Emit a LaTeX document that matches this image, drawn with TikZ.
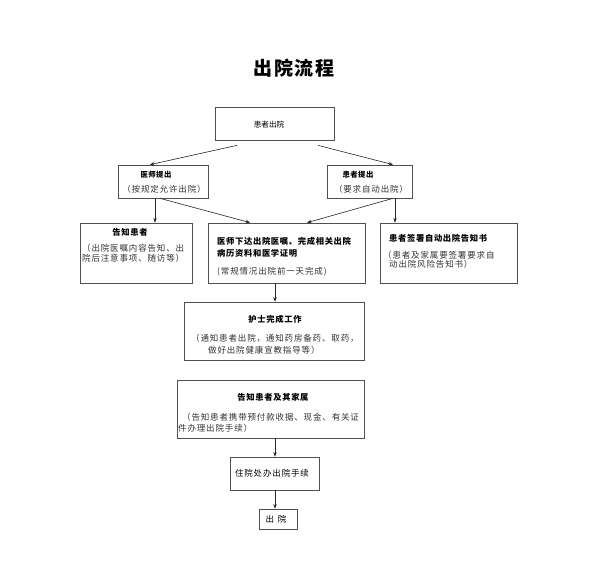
\documentclass[tikz,border=0pt]{standalone}
\usepackage{fontspec}
\setmainfont{Noto Sans CJK SC}
\usetikzlibrary{arrows.meta,calc}
\definecolor{boxgray}{HTML}{505050}
\definecolor{subgray}{HTML}{333333}
\begin{document}
\begin{tikzpicture}[x=1pt,y=-1pt,
  box/.style={draw=boxgray,line width=0.7pt,inner sep=0pt},
  ttl/.style={inner sep=0pt,text=black,font=\fontsize{8.3}{10}\selectfont\bfseries\addfontfeature{LetterSpace=8}},
  smallttl/.style={inner sep=0pt,text=black,font=\fontsize{7.4}{9}\selectfont\bfseries\addfontfeature{LetterSpace=6}},
  sub/.style={inner sep=0pt,text=subgray,font=\fontsize{8.5}{10}\selectfont\addfontfeature{LetterSpace=10}},
  arr/.style={draw=black!85,line width=0.6pt,-{Stealth[length=4.5pt,width=3.5pt]}}]
\useasboundingbox[fill=white] (0,0) rectangle (590,568);

\node[inner sep=0pt,font=\fontsize{19}{22}\selectfont\bfseries\addfontfeature{LetterSpace=8}] (title) at (294,68) {出院流程};

% boxes
\node[box,minimum width=119pt,minimum height=33pt] (top) at (274.5,123.5) {};
\node[box,minimum width=90pt,minimum height=33pt] (dr) at (163,181.5) {};
\node[box,minimum width=85pt,minimum height=33pt] (pt) at (369.5,181.5) {};
\node[box,minimum width=112pt,minimum height=60pt] (b1) at (136,253) {};
\node[box,minimum width=157pt,minimum height=60pt] (b2) at (286.5,253) {};
\node[box,minimum width=137pt,minimum height=60pt] (b3) at (448.5,253) {};
\node[box,minimum width=180pt,minimum height=58pt] (nurse) at (274,331) {};
\node[box,minimum width=187pt,minimum height=58pt] (fam) at (270.5,409) {};
\node[box,minimum width=89pt,minimum height=33pt] (office) at (274.5,473.5) {};
\node[box,minimum width=38pt,minimum height=20pt] (out) at (278,519) {};

% texts
\node[smallttl,font=\fontsize{7.6}{9}\selectfont] (topT) at (269,125) {患者出院};
\node[smallttl] (drT) at (156,175) {医师提出};
\node[sub] (drS) at (164,189) {（按规定允许出院）};
\node[smallttl] (ptT) at (358,175) {患者提出};
\node[sub] (ptS) at (371,189) {（要求自动出院）};

\node[ttl] (b1T) at (130,232) {告知患者};
\node[sub,anchor=west] (b1S1) at (82,248) {（出院医嘱内容告知、出};
\node[sub,anchor=west] (b1S2) at (82,258.5) {院后注意事项、随访等）};

\node[ttl,anchor=west] (b2T1) at (217,241) {医师下达出院医嘱、完成相关出院};
\node[ttl,anchor=west] (b2T2) at (217,253) {病历资料和医学证明};
\node[sub,anchor=west] (b2S) at (217,272) {(常规情况出院前一天完成)};

\node[ttl,anchor=west] (b3T) at (389,238) {患者签署自动出院告知书};
\node[sub,anchor=west] (b3S1) at (383,255.5) {（患者及家属要签署要求自};
\node[sub,anchor=west] (b3S2) at (389,264.5) {动出院风险告知书）};

\node[ttl] (nurseT) at (275,319) {护士完成工作};
\node[sub,anchor=west] (nurseS1) at (191,338) {（通知患者出院，通知药房备药、取药，};
\node[sub,anchor=west] (nurseS2) at (208,350.5) {做好出院健康宣教指导等）};

\node[ttl] (famT) at (273,397) {告知患者及其家属};
\node[sub,anchor=west] (famS1) at (182,417) {（告知患者携带预付款收据、现金、有关证};
\node[sub,anchor=west] (famS2) at (178,428.5) {件办理出院手续）};

\node[sub,text=black] (officeT) at (272,473) {住院处办出院手续};
\node[sub,text=black] (outT) at (276,519) {出\hspace{4pt}院};

% connectors
\draw[arr] ($(top.south)+(-37.5,5)$) -- ($(dr.north)+(-13,0)$);
\draw[arr] ($(top.south)+(43.5,5)$) -- ($(pt.north)+(23.5,0)$);
\draw[arr] ($(dr.south)+(-8,0)$) -- ($(b1.north)+(19,0)$);
\draw[arr] ($(dr.south)+(-3,0)$) -- ($(b2.north)+(-36.5,0)$);
\draw[arr] ($(pt.south)+(23.5,0)$) -- ($(b2.north)+(20.5,0)$);
\draw[arr] ($(pt.south)+(25.5,0)$) -- ($(b3.north)+(-53.5,0)$);
\draw[arr] ($(b2.south)+(-11.5,0)$) -- ($(nurse.north)+(1,0)$);
\draw[arr] ($(fam.south)+(4.5,0)$) -- ($(office.north)+(0.5,0)$);
\draw[arr] ($(office.south)+(0.5,0)$) -- ($(out.north)+(-3,0)$);
\end{tikzpicture}
\end{document}
